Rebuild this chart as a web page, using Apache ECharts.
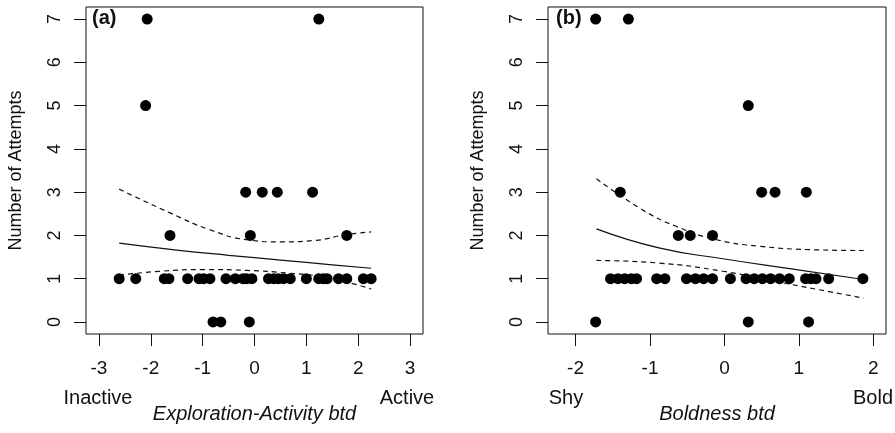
<!DOCTYPE html>
<html>
<head>
<meta charset="utf-8">
<script src="https://cdn.jsdelivr.net/npm/echarts@6/dist/echarts.min.js"></script>
<style>
  html, body { margin: 0; padding: 0; background: #fff; }
  #main { width: 895px; height: 433px; }
</style>
</head>
<body>
<div id="main"></div>
<script>
// panel (a): exploration-activity btd vs number of attempts
const activityX = [
  -2.07, 1.24,
  -2.10,
  -0.17, 0.15, 0.44, 1.12,
  -1.63, -0.08, 1.78,
  -0.80, -0.65, -0.10,
  -2.61, -2.29, -1.74, -1.65, -1.29, -1.07, -0.98, -0.86, -0.55, -0.37, -0.22, -0.15, -0.05,
  0.27, 0.37, 0.46, 0.56, 0.69, 1.00, 1.24, 1.33, 1.40, 1.62, 1.78, 2.10, 2.25
];
const activityAttempts = [
  7, 7,
  5,
  3, 3, 3, 3,
  2, 2, 2,
  0, 0, 0,
  1, 1, 1, 1, 1, 1, 1, 1, 1, 1, 1, 1, 1,
  1, 1, 1, 1, 1, 1, 1, 1, 1, 1, 1, 1, 1
];
// fitted curve and 95% band for (a)
const activityFitX = [-2.61, -1.5, -0.5, 0.5, 1.5, 2.25];
const activityFit = [1.82, 1.66, 1.54, 1.43, 1.32, 1.24];
const activityUpperX = [-2.61, -1.63, -0.86, -0.15, 0.50, 1.14, 1.78, 2.25];
const activityUpper = [3.07, 2.52, 2.13, 1.90, 1.85, 1.88, 2.02, 2.08];
const activityLowerX = [-2.61, -1.82, -0.98, -0.15, 0.63, 1.33, 1.91, 2.25];
const activityLower = [1.08, 1.17, 1.21, 1.19, 1.13, 1.04, 0.88, 0.76];

// panel (b): boldness btd vs number of attempts
const boldX = [
  -1.73, -1.29,
  0.32,
  -1.40, 0.50, 0.68, 1.10,
  -0.62, -0.46, -0.16,
  -1.73, 0.32, 1.13,
  -1.53, -1.43, -1.34, -1.25, -1.18, -0.91, -0.80, -0.51, -0.39, -0.28, -0.16, 0.08,
  0.29, 0.40, 0.51, 0.62, 0.74, 0.87, 1.09, 1.16, 1.23, 1.40, 1.86
];
const boldAttempts = [
  7, 7,
  5,
  3, 3, 3, 3,
  2, 2, 2,
  0, 0, 0,
  1, 1, 1, 1, 1, 1, 1, 1, 1, 1, 1, 1,
  1, 1, 1, 1, 1, 1, 1, 1, 1, 1, 1
];
const boldFitX = [-1.72, -0.88, -0.02, 0.92, 1.87];
const boldFit = [2.15, 1.71, 1.46, 1.22, 0.98];
const boldUpperX = [-1.72, -1.10, -0.65, -0.11, 0.47, 1.15, 1.87];
const boldUpper = [3.31, 2.59, 2.21, 1.90, 1.75, 1.67, 1.65];
const boldLowerX = [-1.72, -0.88, -0.02, 0.79, 1.87];
const boldLower = [1.42, 1.36, 1.17, 0.90, 0.55];

const activityTicks = [-3, -2, -1, 0, 1, 2, 3];
const boldTicks = [-2, -1, 0, 1, 2];
const attemptTicks = [0, 1, 2, 3, 4, 5, 6, 7];

const font = 'Liberation Sans, Arial, sans-serif';
const ink = '#111';

function pairs(xs, ys) {
  return xs.map((x, i) => [x, ys[i]]);
}

function xAxisFor(idx, min, max, ticks, name) {
  return {
    type: 'value', gridIndex: idx, min, max,
    name, nameLocation: 'middle', nameGap: 70,
    nameTextStyle: { fontFamily: font, fontSize: 20, fontStyle: 'italic', color: ink },
    axisLine: { show: false, onZero: false },
    axisTick: { show: true, length: 12, customValues: ticks, lineStyle: { color: ink } },
    axisLabel: { customValues: ticks, fontFamily: font, fontSize: 19, color: ink, margin: 25 },
    splitLine: { show: false }
  };
}

function yAxisFor(idx) {
  return {
    type: 'value', gridIndex: idx, min: -0.28, max: 7.28,
    name: 'Number of Attempts', nameLocation: 'middle', nameGap: 61,
    nameTextStyle: { fontFamily: font, fontSize: 18, color: ink },
    axisLine: { show: false, onZero: false },
    axisTick: { show: true, length: 12, customValues: attemptTicks, lineStyle: { color: ink } },
    axisLabel: { customValues: attemptTicks, rotate: 90, fontFamily: font, fontSize: 18, color: ink, margin: 22 },
    splitLine: { show: false }
  };
}

function curve(idx, xs, ys, dashed) {
  return {
    type: 'line', xAxisIndex: idx, yAxisIndex: idx,
    data: pairs(xs, ys), smooth: true, showSymbol: false, silent: true, z: 3,
    lineStyle: { color: ink, width: 1.2, type: dashed ? [5, 4] : 'solid' }
  };
}

function dots(idx, xs, ys) {
  return {
    type: 'scatter', xAxisIndex: idx, yAxisIndex: idx, symbolSize: 11,
    itemStyle: { color: '#000', opacity: 1 }, data: pairs(xs, ys)
  };
}

function sideLabel(text, x) {
  return {
    type: 'text', x, y: 398,
    style: { text, font: '20px ' + font, fill: ink, align: 'center', verticalAlign: 'middle' }
  };
}

const chart = echarts.init(document.getElementById('main'));
chart.setOption({
  animation: false,
  backgroundColor: '#fff',
  grid: [
    { left: 86, right: 472, top: 7, bottom: 99, show: true, borderColor: ink, borderWidth: 1 },
    { left: 548, right: 9, top: 7, bottom: 99, show: true, borderColor: ink, borderWidth: 1 }
  ],
  xAxis: [
    xAxisFor(0, -3.25, 3.25, activityTicks, 'Exploration-Activity btd'),
    xAxisFor(1, -2.37, 2.17, boldTicks, 'Boldness btd')
  ],
  yAxis: [yAxisFor(0), yAxisFor(1)],
  series: [
    dots(0, activityX, activityAttempts),
    curve(0, activityFitX, activityFit, false),
    curve(0, activityUpperX, activityUpper, true),
    curve(0, activityLowerX, activityLower, true),
    dots(1, boldX, boldAttempts),
    curve(1, boldFitX, boldFit, false),
    curve(1, boldUpperX, boldUpper, true),
    curve(1, boldLowerX, boldLower, true)
  ],
  graphic: [
    { type: 'text', left: 92, top: 8, style: { text: '(a)', font: 'bold 20px ' + font, fill: ink } },
    { type: 'text', left: 556, top: 8, style: { text: '(b)', font: 'bold 20px ' + font, fill: ink } },
    sideLabel('Inactive', 98),
    sideLabel('Active', 407),
    sideLabel('Shy', 566),
    sideLabel('Bold', 873)
  ]
});
</script>
</body>
</html>
